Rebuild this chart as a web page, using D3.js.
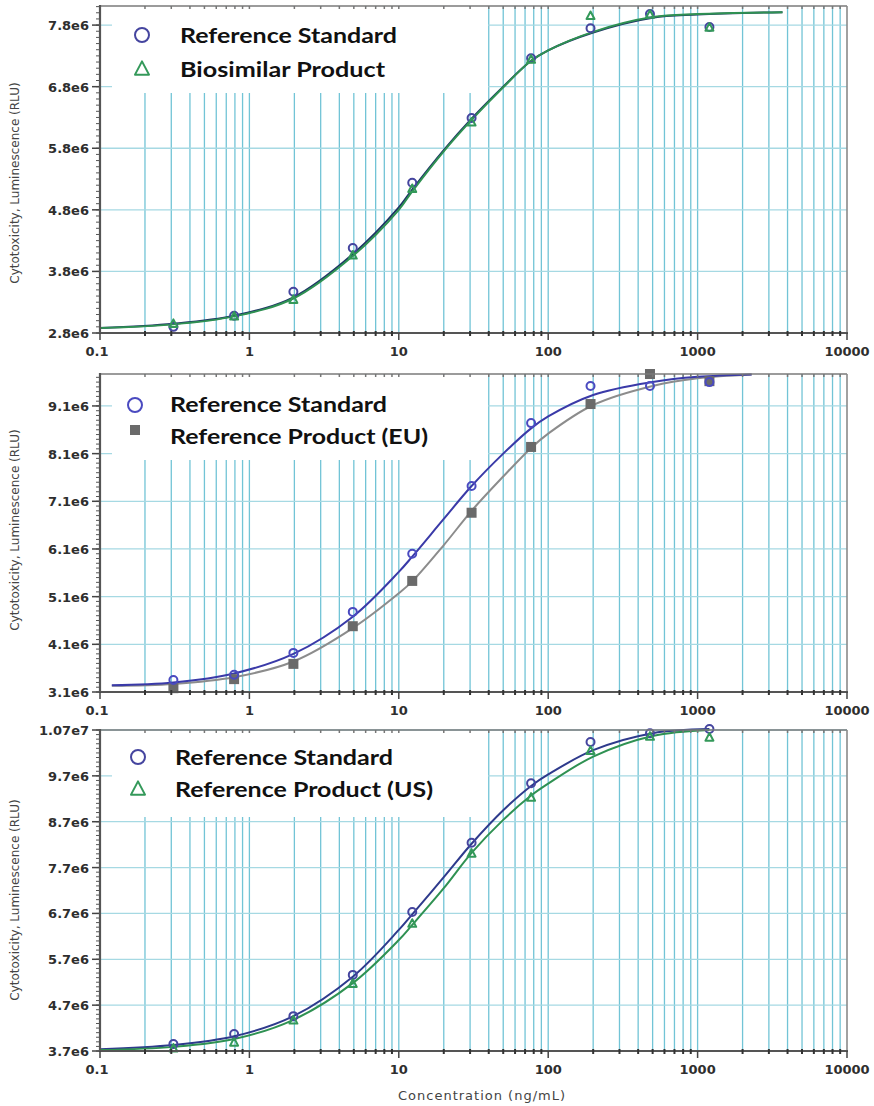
<!DOCTYPE html>
<html>
<head>
<meta charset="utf-8">
<script src="https://cdn.jsdelivr.net/npm/d3@7"></script>
<style>
  body { margin: 0; background: #fff; }
  .tick-label { font-family: "DejaVu Sans", sans-serif; font-weight: bold; font-size: 13px; fill: #2e2e2e; }
  .axis-title { font-family: "DejaVu Sans", sans-serif; font-size: 12px; fill: #444; }
  .legend-text { font-family: Lato, "Open Sans", sans-serif; font-weight: bold; font-size: 21px; fill: #111; }
</style>
</head>
<body>
<div id="chart"></div>
<script>
// concentrations of the dilution series (ng/mL)
var conc = [0.31, 0.79, 1.97, 4.92, 12.3, 30.7, 76.8, 192, 480, 1200];

// panel 1 : reference standard vs biosimilar
var p1RefStd = [2.90e6, 3.08e6, 3.47e6, 4.18e6, 5.24e6, 6.29e6, 7.26e6, 7.75e6, 7.98e6, 7.77e6];
var p1Biosim = [2.96e6, 3.08e6, 3.35e6, 4.07e6, 5.15e6, 6.23e6, 7.25e6, 7.96e6, 7.98e6, 7.77e6];
var p1CurveX = [0.1, 0.31, 0.79, 1.97, 4.92, 10, 12.3, 20, 30.7, 50, 76.8, 100, 200, 500, 1000, 3700];
var p1CurveRefStd = [2.88e6, 2.95e6, 3.08e6, 3.38e6, 4.08e6, 4.84e6, 5.13e6, 5.77e6, 6.28e6, 6.80e6, 7.22e6, 7.39e6, 7.68e6, 7.92e6, 7.97e6, 8.01e6];
var p1CurveBiosim = [2.88e6, 2.94e6, 3.07e6, 3.36e6, 4.05e6, 4.80e6, 5.10e6, 5.75e6, 6.26e6, 6.79e6, 7.22e6, 7.39e6, 7.69e6, 7.93e6, 7.98e6, 8.01e6];
var p1YTicks = [2.8e6, 3.8e6, 4.8e6, 5.8e6, 6.8e6, 7.8e6];
var p1YLabels = ["2.8e6", "3.8e6", "4.8e6", "5.8e6", "6.8e6", "7.8e6"];

// panel 2 : reference standard vs reference product (EU)
var p2RefStd = [3.35e6, 3.46e6, 3.92e6, 4.78e6, 6.00e6, 7.42e6, 8.74e6, 9.52e6, 9.52e6, 9.60e6];
var p2RefEU = [3.18e6, 3.37e6, 3.69e6, 4.48e6, 5.43e6, 6.86e6, 8.24e6, 9.14e6, 9.77e6, 9.62e6];
var p2CurveX = [0.12, 0.31, 0.79, 1.97, 4.92, 10, 12.3, 20, 30.7, 50, 76.8, 100, 200, 500, 1000, 2300];
var p2CurveRefStd = [3.24e6, 3.30e6, 3.49e6, 3.90e6, 4.68e6, 5.62e6, 5.94e6, 6.73e6, 7.42e6, 8.10e6, 8.63e6, 8.88e6, 9.33e6, 9.60e6, 9.71e6, 9.76e6];
var p2CurveRefEU = [3.23e6, 3.27e6, 3.41e6, 3.74e6, 4.44e6, 5.17e6, 5.42e6, 6.18e6, 6.90e6, 7.62e6, 8.22e6, 8.52e6, 9.12e6, 9.52e6, 9.68e6, 9.76e6];
var p2YTicks = [3.1e6, 4.1e6, 5.1e6, 6.1e6, 7.1e6, 8.1e6, 9.1e6];
var p2YLabels = ["3.1e6", "4.1e6", "5.1e6", "6.1e6", "7.1e6", "8.1e6", "9.1e6"];

// panel 3 : reference standard vs reference product (US)
var p3RefStd = [3.85e6, 4.07e6, 4.46e6, 5.36e6, 6.73e6, 8.24e6, 9.54e6, 10.44e6, 10.63e6, 10.72e6];
var p3RefUS = [3.77e6, 3.90e6, 4.38e6, 5.18e6, 6.49e6, 8.02e6, 9.24e6, 10.26e6, 10.57e6, 10.55e6];
var p3CurveX = [0.1, 0.31, 0.79, 1.97, 4.92, 10, 12.3, 20, 30.7, 50, 76.8, 100, 200, 500, 1200];
var p3CurveRefStd = [3.74e6, 3.83e6, 4.02e6, 4.46e6, 5.32e6, 6.34e6, 6.68e6, 7.49e6, 8.22e6, 8.95e6, 9.48e6, 9.73e6, 10.26e6, 10.63e6, 10.72e6];
var p3CurveRefUS = [3.72e6, 3.79e6, 3.96e6, 4.38e6, 5.18e6, 6.12e6, 6.45e6, 7.25e6, 8.02e6, 8.74e6, 9.27e6, 9.53e6, 10.12e6, 10.57e6, 10.70e6];
var p3YTicks = [3.7e6, 4.7e6, 5.7e6, 6.7e6, 7.7e6, 8.7e6, 9.7e6, 10.7e6];
var p3YLabels = ["3.7e6", "4.7e6", "5.7e6", "6.7e6", "7.7e6", "8.7e6", "9.7e6", "1.07e7"];

var xTickValues = [0.1, 1, 10, 100, 1000, 10000];
var xTickLabels = ["0.1", "1", "10", "100", "1000", "10000"];

var yTitle = "Cytotoxicity, Luminescence (RLU)";
var xTitle = "Concentration (ng/mL)";

// colours
var blue = "#45459f";
var green = "#34995a";
var gray = "#6a6a6a";
var gridV = "#72c4d6";
var gridH = "#a6d9e3";

var svgWidth = 874, svgHeight = 1106;
var svg = d3.select("#chart").append("svg")
  .attr("width", svgWidth)
  .attr("height", svgHeight);

var x = d3.scaleLog().domain([0.1, 10000]).range([100, 847]);

// all log positions between 0.1 and 10000
var minorX = [];
[0.1, 1, 10, 100, 1000].forEach(function(d) {
  for (var k = 1; k <= 9; k++) minorX.push(+(k * d).toPrecision(3));
});
minorX.push(10000);

var panels = [
  {
    top: 6, bottom: 333, yMax: 8.11e6, yTicks: p1YTicks, yLabels: p1YLabels, titleY: 183,
    legendBottom: 93,
    series: [
      { name: "Reference Standard", values: p1RefStd, curveX: p1CurveX, curve: p1CurveRefStd, color: blue, lineColor: "#1f3466", shape: "circle" },
      { name: "Biosimilar  Product", values: p1Biosim, curveX: p1CurveX, curve: p1CurveBiosim, color: green, lineColor: "#2f9152", shape: "triangle" }
    ],
    legend: { mx: 142, tx: 180, rows: [35, 68], base: [43, 77], widths: [217, 205] }
  },
  {
    top: 374, bottom: 692, yMax: 9.77e6, yTicks: p2YTicks, yLabels: p2YLabels, titleY: 530,
    legendBottom: 460,
    series: [
      { name: "Reference Product (EU)", values: p2RefEU, curveX: p2CurveX, curve: p2CurveRefEU, color: gray, lineColor: "#8c8c8c", shape: "square" },
      { name: "Reference Standard", values: p2RefStd, curveX: p2CurveX, curve: p2CurveRefStd, color: "#4a4ac0", lineColor: "#3a3aa8", shape: "circle" }
    ],
    legendOrder: [1, 0],
    legend: { mx: 135, tx: 170, rows: [405, 430], base: [412, 444], widths: [217, 258] }
  },
  {
    top: 730, bottom: 1051, yMax: 10.7e6, yTicks: p3YTicks, yLabels: p3YLabels, titleY: 900,
    legendBottom: 817,
    series: [
      { name: "Reference Standard", values: p3RefStd, curveX: p3CurveX, curve: p3CurveRefStd, color: blue, lineColor: "#2e3a8c", shape: "circle" },
      { name: "Reference Product (US)", values: p3RefUS, curveX: p3CurveX, curve: p3CurveRefUS, color: green, lineColor: "#2f9152", shape: "triangle" }
    ],
    legend: { mx: 138, tx: 175, rows: [757, 788], base: [765, 797], widths: [218, 258] }
  }
];

function drawMarker(g, shape, cx, cy, size, color) {
  if (shape === "circle") {
    g.append("circle").attr("cx", cx).attr("cy", cy).attr("r", size / 2)
      .attr("fill", "none").attr("stroke", color).attr("stroke-width", 2);
  } else if (shape === "triangle") {
    var h = size * 0.95;
    g.append("path")
      .attr("d", "M" + cx + "," + (cy - h / 2) + "L" + (cx + size / 2) + "," + (cy + h / 2) + "L" + (cx - size / 2) + "," + (cy + h / 2) + "Z")
      .attr("fill", "none").attr("stroke", color).attr("stroke-width", 2).attr("stroke-linejoin", "round");
  } else {
    g.append("rect").attr("x", cx - size / 2).attr("y", cy - size / 2)
      .attr("width", size).attr("height", size).attr("fill", color);
  }
}

panels.forEach(function(p) {
  var y = d3.scaleLinear().domain([p.yTicks[0], p.yMax]).range([p.bottom, p.top]);
  var g = svg.append("g");

  // vertical grid
  g.selectAll(".vgrid").data(minorX.filter(function(d) { return d > 0.1 && d < 10000; }))
    .enter().append("line")
    .attr("x1", d => x(d)).attr("x2", d => x(d))
    .attr("y1", p.top).attr("y2", p.bottom)
    .attr("stroke", gridV).attr("stroke-width", 1.3);

  // horizontal grid
  g.selectAll(".hgrid").data(p.yTicks.slice(1))
    .enter().append("line")
    .attr("x1", 100).attr("x2", 847)
    .attr("y1", d => y(d)).attr("y2", d => y(d))
    .attr("stroke", gridH).attr("stroke-width", 1.3);

  // legend background hides grid behind it
  g.append("rect")
    .attr("x", 112).attr("y", p.top + 1)
    .attr("width", 488 - 112).attr("height", p.legendBottom - p.top - 1)
    .attr("fill", "#fff");

  // fitted curves
  var line = d3.line()
    .x(d => x(d[0]))
    .y(d => y(d[1]))
    .curve(d3.curveCatmullRom.alpha(0.5));
  p.series.forEach(function(s) {
    g.append("path")
      .attr("d", line(d3.zip(s.curveX, s.curve)))
      .attr("fill", "none")
      .attr("stroke", s.lineColor)
      .attr("stroke-width", 2);
  });

  // data points
  p.series.forEach(function(s) {
    var mg = g.append("g");
    s.values.forEach(function(v, i) {
      drawMarker(mg, s.shape, x(conc[i]), y(v), s.shape === "square" ? 10 : 8, s.color);
    });
  });

  // frame: top/right border
  g.append("line").attr("x1", 100).attr("x2", 847).attr("y1", p.top).attr("y2", p.top)
    .attr("stroke", "#7a7a7a").attr("stroke-width", 1.6);
  g.append("line").attr("x1", 847).attr("x2", 847).attr("y1", p.top).attr("y2", p.bottom)
    .attr("stroke", "#8a8a8a").attr("stroke-width", 1.6);

  // small ticks along the top border
  g.selectAll(".ttick").data(minorX.filter(function(d) { return d > 0.1 && d < 10000; }))
    .enter().append("line")
    .attr("x1", d => x(d)).attr("x2", d => x(d))
    .attr("y1", p.top).attr("y2", p.top + 3)
    .attr("stroke", "#777").attr("stroke-width", 1.5);

  // y axis
  var yMinor = d3.range(p.yTicks[0], p.yMax + 1, 1e5);
  g.selectAll(".ymin").data(yMinor).enter().append("line")
    .attr("x1", 96).attr("x2", 100)
    .attr("y1", d => y(d)).attr("y2", d => y(d))
    .attr("stroke", "#555").attr("stroke-width", 1);
  g.selectAll(".ymaj").data(p.yTicks).enter().append("line")
    .attr("x1", 92).attr("x2", 100)
    .attr("y1", d => y(d)).attr("y2", d => y(d))
    .attr("stroke", "#444").attr("stroke-width", 1.5);
  g.append("line").attr("x1", 100).attr("x2", 100).attr("y1", p.top - 1).attr("y2", p.bottom + 1)
    .attr("stroke", "#555").attr("stroke-width", 2.2);
  g.selectAll(".ylab").data(p.yTicks).enter().append("text")
    .attr("class", "tick-label")
    .attr("x", 89).attr("y", d => y(d) + 5)
    .attr("text-anchor", "end")
    .text((d, i) => p.yLabels[i]);

  // x axis
  g.append("line").attr("x1", 99).attr("x2", 848).attr("y1", p.bottom).attr("y2", p.bottom)
    .attr("stroke", "#555").attr("stroke-width", 2.2);
  g.selectAll(".xmin").data(minorX.filter(d => xTickValues.indexOf(d) < 0))
    .enter().append("line")
    .attr("x1", d => x(d)).attr("x2", d => x(d))
    .attr("y1", p.bottom - 2).attr("y2", p.bottom + 3)
    .attr("stroke", "#333").attr("stroke-width", 2);
  g.selectAll(".xmaj").data(xTickValues).enter().append("line")
    .attr("x1", d => x(d)).attr("x2", d => x(d))
    .attr("y1", p.bottom).attr("y2", p.bottom + 7)
    .attr("stroke", "#444").attr("stroke-width", 1.5);
  g.selectAll(".xlab").data(xTickValues).enter().append("text")
    .attr("class", "tick-label")
    .attr("x", d => x(d) - (d === 0.1 ? 3 : 0)).attr("y", p.bottom + 23)
    .attr("text-anchor", "middle")
    .text((d, i) => xTickLabels[i]);

  // y title
  g.append("text")
    .attr("class", "axis-title")
    .attr("transform", "translate(19," + p.titleY + ") rotate(-90)")
    .attr("text-anchor", "middle")
    .text(yTitle);

  // legend
  var order = p.legendOrder || [0, 1];
  order.forEach(function(si, row) {
    var s = p.series[si];
    drawMarker(g, s.shape, p.legend.mx, p.legend.rows[row], s.shape === "square" ? 10 : 14, s.color);
    g.append("text")
      .attr("class", "legend-text")
      .attr("x", p.legend.tx).attr("y", p.legend.base[row])
      .attr("textLength", p.legend.widths[row])
      .attr("lengthAdjust", "spacingAndGlyphs")
      .text(s.name);
  });
});

// x title
svg.append("text")
  .attr("x", 482).attr("y", 1100)
  .attr("text-anchor", "middle")
  .attr("font-family", "DejaVu Sans, sans-serif")
  .attr("font-size", 13)
  .attr("letter-spacing", 1)
  .attr("fill", "#444")
  .text(xTitle);
</script>
</body>
</html>
